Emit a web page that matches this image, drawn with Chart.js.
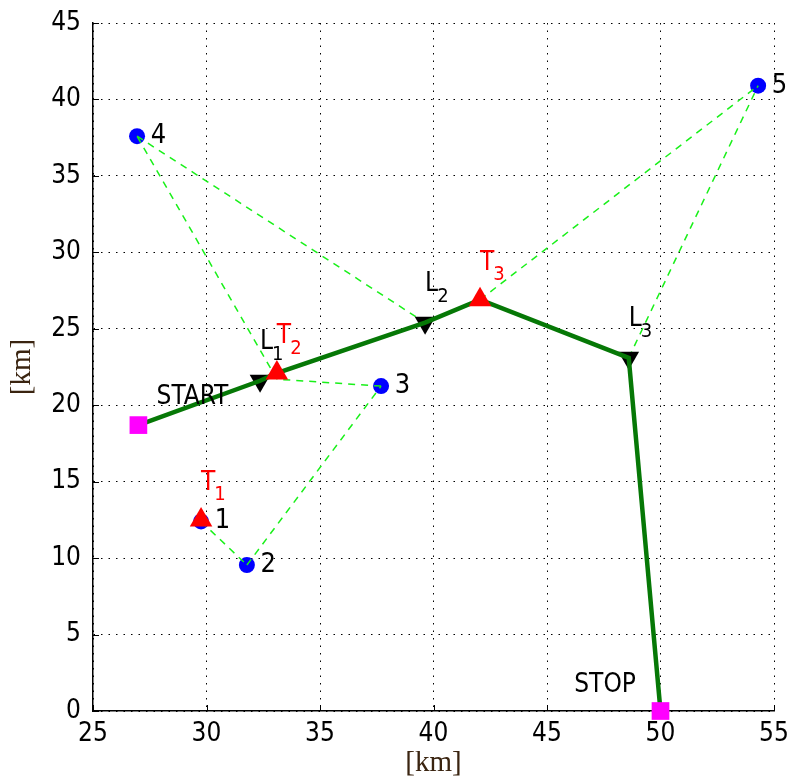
<!DOCTYPE html>
<html>
<head>
<meta charset="utf-8">
<script src="https://cdn.jsdelivr.net/npm/chart.js@4/dist/chart.umd.min.js"></script>
<style>
html,body{margin:0;padding:0;background:#fff;}
#wrap{width:790px;height:779px;position:relative;}
</style>
</head>
<body>
<div id="wrap"><canvas id="c" width="790" height="779"></canvas></div>
<script>
// ---- tick labels ----
const xTickValues = [25, 30, 35, 40, 45, 50, 55];
const yTickValues = [0, 5, 10, 15, 20, 25, 30, 35, 40, 45];

// ---- targets (blue circles) ----
const targetNames = ['1', '2', '3', '4', '5'];
const targetX = [29.76, 31.78, 37.69, 26.94, 54.30];
const targetY = [12.40, 9.55, 21.25, 37.60, 40.90];

// ---- start / stop (magenta squares) ----
const endNames = ['START', 'STOP'];
const endX = [27.0, 50.0];
const endY = [18.7, 0.0];

// ---- launch points L (black down triangles) ----
const launchNames = ['L', 'L', 'L'];
const launchSubs = ['1', '2', '3'];
const launchX = [32.36, 39.63, 48.60];
const launchY = [21.60, 25.40, 23.10];

// ---- trigger points T (red up triangles) ----
const triggerNames = ['T', 'T', 'T'];
const triggerSubs = ['1', '2', '3'];
const triggerX = [29.76, 33.10, 42.05];
const triggerY = [12.50, 22.10, 26.90];

// ---- main path (thick green): START, L1, T2, L2, T3, L3, STOP ----
const pathX = [27.0, 32.36, 33.10, 39.63, 42.05, 48.60, 50.0];
const pathY = [18.7, 21.60, 22.10, 25.40, 26.90, 23.10, 0.0];

// ---- dashed links (light green) ----
const linkFromX = [29.76, 31.78, 37.69, 33.10, 26.94, 42.05, 48.60];
const linkFromY = [12.40, 9.55, 21.25, 21.70, 37.60, 26.90, 23.10];
const linkToX   = [31.78, 37.69, 33.10, 26.94, 39.63, 54.30, 54.30];
const linkToY   = [9.55, 21.25, 21.70, 37.60, 25.40, 40.90, 40.90];

// ---- label anchor positions (data units) ----
const startLabelX = 27.8, startLabelY = 20.5;
const stopLabelX = 46.2, stopLabelY = 1.7;

const pts = (xs, ys) => xs.map((v, i) => ({x: v, y: ys[i]}));

const datasets = [];
datasets.push({
  data: pts(endX, endY), showLine: false, pointStyle: 'rect', clip: false,
  pointRadius: 12.5, backgroundColor: '#ff00ff', borderColor: '#ff00ff', borderWidth: 0
});
datasets.push({
  data: pts(triggerX, triggerY), showLine: false, pointStyle: 'triangle', clip: false,
  pointRadius: 13, backgroundColor: '#ff0000', borderColor: '#ff0000', borderWidth: 0
});
datasets.push({
  data: pts(pathX, pathY), showLine: true, pointRadius: 0, clip: false,
  borderColor: '#067806', borderWidth: 4.5, tension: 0
});
datasets.push({
  data: pts(launchX, launchY), showLine: false, pointStyle: 'triangle', rotation: 180, clip: false,
  pointRadius: 12, backgroundColor: '#000000', borderColor: '#000000', borderWidth: 0
});
for (let i = 0; i < linkFromX.length; i++) {
  datasets.push({
    data: [{x: linkFromX[i], y: linkFromY[i]}, {x: linkToX[i], y: linkToY[i]}],
    showLine: true, pointRadius: 0, borderColor: '#19f019', borderWidth: 1.5,
    borderDash: [7, 6], tension: 0
  });
}
datasets.push({
  data: pts(targetX, targetY), showLine: false, pointStyle: 'circle', clip: false,
  pointRadius: 8, backgroundColor: '#0000ff', borderColor: '#0000ff', borderWidth: 0
});

const TXT_FONT = '"DejaVu Sans Condensed", "DejaVu Sans", sans-serif';

const innerTicks = {
  id: 'innerTicks',
  beforeDatasetsDraw(chart) {
    const {ctx, chartArea: a, scales: {x, y}} = chart;
    ctx.save();
    ctx.strokeStyle = '#000';
    ctx.lineWidth = 1;
    ctx.beginPath();
    x.ticks.forEach(t => {
      const px = Math.round(x.getPixelForValue(t.value)) + 0.5;
      ctx.moveTo(px, a.bottom); ctx.lineTo(px, a.bottom - 6);
    });
    y.ticks.forEach(t => {
      const py = Math.round(y.getPixelForValue(t.value)) + 0.5;
      ctx.moveTo(a.left, py); ctx.lineTo(a.left + 6, py);
    });
    ctx.stroke();
    ctx.restore();
  }
};

function drawSubLabel(ctx, x, y, main, sub, color) {
  ctx.fillStyle = color;
  ctx.textAlign = 'left';
  ctx.textBaseline = 'middle';
  ctx.font = '26px ' + TXT_FONT;
  ctx.fillText(main, x, y);
  const w = ctx.measureText(main).width;
  ctx.font = '20px ' + TXT_FONT;
  ctx.fillText(sub, x + w - 1, y + 12);
}

const textLabels = {
  id: 'textLabels',
  afterDatasetsDraw(chart) {
    const {ctx, scales: {x, y}} = chart;
    ctx.save();
    ctx.textAlign = 'left';
    ctx.textBaseline = 'middle';
    ctx.fillStyle = '#000';
    ctx.font = '27px ' + TXT_FONT;
    targetNames.forEach((n, i) => {
      ctx.fillText(n, x.getPixelForValue(targetX[i] + 0.6), y.getPixelForValue(targetY[i]));
    });
    ctx.font = '26px ' + TXT_FONT;
    ctx.fillText(endNames[0], x.getPixelForValue(startLabelX), y.getPixelForValue(startLabelY));
    ctx.fillText(endNames[1], x.getPixelForValue(stopLabelX), y.getPixelForValue(stopLabelY));
    launchNames.forEach((n, i) => {
      drawSubLabel(ctx, x.getPixelForValue(launchX[i]), y.getPixelForValue(launchY[i] + 2.5), n, launchSubs[i], '#000');
    });
    triggerNames.forEach((n, i) => {
      drawSubLabel(ctx, x.getPixelForValue(triggerX[i]), y.getPixelForValue(triggerY[i] + 2.4), n, triggerSubs[i], '#ff0000');
    });
    ctx.restore();
  }
};

const tickFont = {family: TXT_FONT, size: 26};
const titleFont = {family: '"Liberation Serif", "Times New Roman", serif', size: 29, lineHeight: 1};

new Chart(document.getElementById('c'), {
  type: 'scatter',
  data: {datasets},
  options: {
    responsive: false,
    devicePixelRatio: 1,
    animation: false,
    events: [],
    layout: {padding: {top: 23, right: 16, left: 0, bottom: 0}},
    plugins: {legend: {display: false}, tooltip: {enabled: false}},
    scales: {
      x: {
        type: 'linear', position: 'bottom', min: 25, max: 55,
        afterBuildTicks: s => { s.ticks = xTickValues.map(v => ({value: v})); },
        afterFit: s => { s.height = 68; s.paddingLeft = 0; s.paddingRight = 0; },
        grid: {color: '#000', lineWidth: 1, drawTicks: false},
        border: {display: true, color: '#000', width: 1.5, dash: [1.5, 6]},
        ticks: {font: tickFont, color: '#000', padding: 8, maxRotation: 0, callback: v => String(v)},
        title: {display: true, text: '[km]', font: titleFont, color: '#3a2410', padding: {top: 0, bottom: 1}}
      },
      y: {
        type: 'linear', position: 'left', min: 0, max: 45,
        afterBuildTicks: s => { s.ticks = yTickValues.map(v => ({value: v})); },
        afterFit: s => { s.width = 93; s.paddingTop = 0; s.paddingBottom = 0; },
        grid: {color: '#000', lineWidth: 1, drawTicks: false},
        border: {display: true, color: '#000', width: 1.5, dash: [1.5, 6]},
        ticks: {font: tickFont, color: '#000', padding: 12, callback: v => String(v)},
        title: {display: true, text: '[km]', font: titleFont, color: '#3a2410', padding: {top: 8, bottom: 0}}
      }
    }
  },
  plugins: [innerTicks, textLabels]
});
</script>
</body>
</html>
